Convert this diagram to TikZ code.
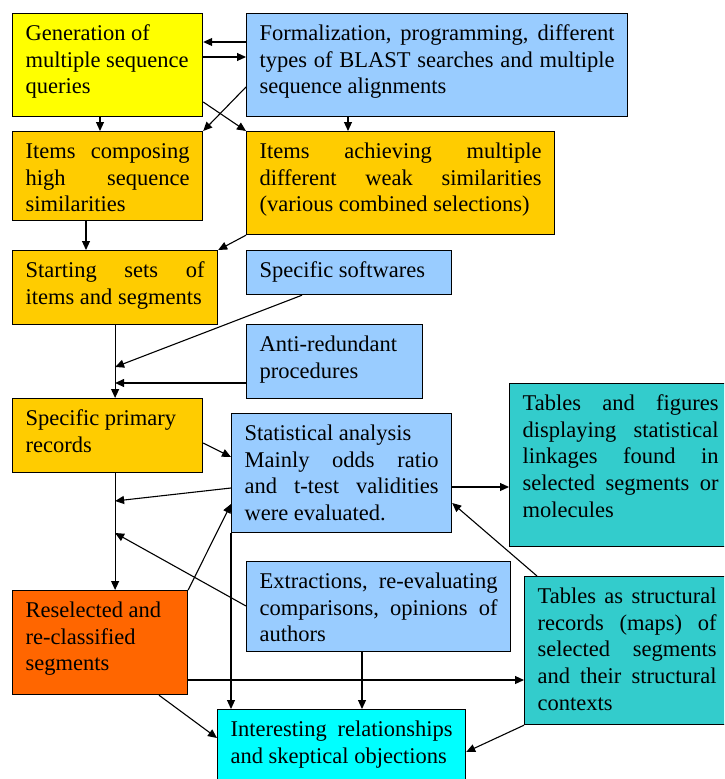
\documentclass[tikz,border=0pt]{standalone}
\usepackage{fontspec}
\setmainfont{Liberation Serif}
\usetikzlibrary{arrows.meta,calc}
\definecolor{cYel}{HTML}{FFFF00}
\definecolor{cBlue}{HTML}{99CCFF}
\definecolor{cOrg}{HTML}{FFCC00}
\definecolor{cTeal}{HTML}{33CCCC}
\definecolor{cRed}{HTML}{FF6600}
\definecolor{cCyan}{HTML}{00FFFF}
\newcommand{\bt}[3]{\parbox[c][#2][t]{#1}{\fontsize{22.5pt}{26.6pt}\selectfont
  \hyphenpenalty=10000\exhyphenpenalty=10000\hbadness=10000\hfuzz=30pt
  \leftskip=13pt\rightskip=13pt\rule{0pt}{27pt}#3\par}}
\tikzset{
  box/.style={draw=black, line width=1.2pt, inner sep=0pt, anchor=north west, rectangle},
  arr/.style={-{Triangle[length=9pt,width=8pt]}, line width=1.1pt},
  ln/.style={line width=1.1pt}
}
\begin{document}
\begin{tikzpicture}[x=1pt,y=-1pt]
\useasboundingbox (0,0) rectangle (724,779);
\clip (0,0) rectangle (724,779);
% boxes
\node[box, fill=cYel]  (A) at (12,13)  {\bt{190pt}{103pt}{Generation~of\newline multiple~sequence\newline queries}};
\node[box, fill=cBlue] (B) at (246,13) {\bt{381pt}{103pt}{Formalization,~programming,~different\linebreak types~of~BLAST~searches~and~multiple\linebreak sequence~alignments}};
\node[box, fill=cOrg]  (C) at (12,131) {\bt{190pt}{89pt}{Items~composing\linebreak high~sequence\linebreak similarities}};
\node[box, fill=cOrg]  (D) at (246,131) {\bt{308pt}{103pt}{Items~achieving~multiple\linebreak different~weak~similarities\linebreak (various~combined~selections)}};
\node[box, fill=cOrg]  (E) at (12,250) {\bt{205pt}{74pt}{Starting~sets~of\linebreak items~and~segments}};
\node[box, fill=cBlue] (F) at (246,250) {\bt{205pt}{44pt}{Specific~softwares}};
\node[box, fill=cBlue] (G) at (246,324) {\bt{176pt}{74pt}{Anti-redundant\newline procedures}};
\node[box, fill=cOrg]  (H) at (12,398) {\bt{190pt}{74pt}{Specific~primary\newline records}};
\node[box, fill=cBlue] (I) at (231,413) {\bt{220pt}{119pt}{Statistical~analysis\newline Mainly~odds~ratio\linebreak and~t-test~validities\linebreak were~evaluated.}};
\node[box, fill=cTeal] (J) at (509,383) {\bt{222pt}{163pt}{Tables~and~figures\linebreak displaying~statistical\linebreak linkages~found~in\linebreak selected~segments~or\linebreak molecules}};
\node[box, fill=cRed]  (K) at (12,590) {\bt{175pt}{104pt}{Reselected~and\newline re-classified\newline segments}};
\node[box, fill=cBlue] (L) at (246,561) {\bt{264pt}{90pt}{Extractions,~re-evaluating\linebreak comparisons,~opinions~of\linebreak authors}};
\node[box, fill=cTeal] (M) at (524,576) {\bt{205pt}{148pt}{Tables~as~structural\linebreak records~(maps)~of\linebreak selected~segments\linebreak and~their~structural\linebreak contexts}};
\node[box, fill=cCyan] (N) at (217,709) {\bt{248pt}{80pt}{Interesting~relationships\linebreak and~skeptical~objections}};
% junction points on the main vertical line
\coordinate (j1) at (E.south |- 0,367);
\coordinate (j2) at (E.south |- 0,383);
\coordinate (j3) at (E.south |- 0,501);
\coordinate (j4) at (E.south |- 0,533);
% connectors
\draw[arr] (B.west |- 0,42) -- (A.east |- 0,42);
\draw[arr] (A.east |- 0,57) -- (B.west |- 0,57);
\draw[arr] (A.south -| 100,0) -- (C.north -| 100,0);
\draw[arr] (B.west |- 0,87) -- (C.north east);
\draw[arr] (A.east |- 0,102) -- (D.north west);
\draw[arr] (B.south -| 348,0) -- (D.north -| 348,0);
\draw[arr] (C.south -| 86,0) -- (E.north -| 86,0);
\draw[arr] (D.south west) -- (E.north east);
\draw[arr] (E.south) -- (H.north -| E.south);
\draw[arr] (F.south -| 302,0) -- (j1);
\draw[arr] (G.west |- j2) -- (j2);
\draw[arr] (H.east |- 0,443) -- (I.west |- 0,457);
\draw[arr] (I.west |- 0,488) -- (j3);
\draw[arr] (H.south -| E.south) -- (K.north -| E.south);
\draw[arr] (K.north east) -- (I.west |- 0,504);
\draw[arr] (L.west |- 0,606) -- (j4);
\draw[arr] (I.east |- 0,487) -- (J.west |- 0,487);
\draw[arr] ([xshift=13pt]M.north west) -- (I.east |- 0,503);
\draw[arr] (K.east |- 0,680) -- (M.west |- 0,680);
\draw[arr] (I.south west) -- (N.north -| I.west);
\draw[arr] (L.south -| 362,0) -- (N.north -| 362,0);
\draw[arr] (K.south -| 159,0) -- (N.west |- 0,738);
\draw[arr] (M.south west) -- (N.east |- 0,752);
\end{tikzpicture}
\end{document}
